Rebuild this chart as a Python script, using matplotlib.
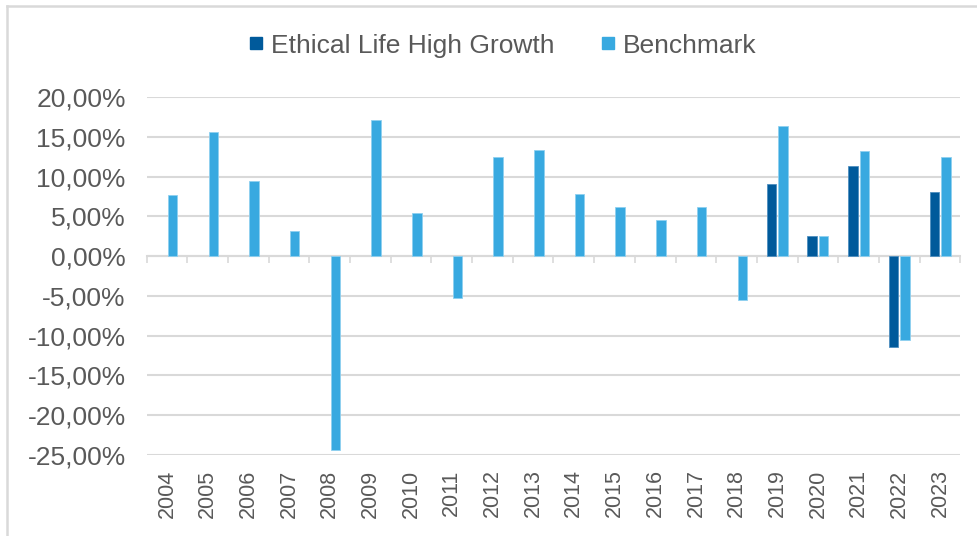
import matplotlib
matplotlib.use("Agg")
import matplotlib.pyplot as plt
from matplotlib.lines import Line2D
import numpy as np
from matplotlib.ticker import FuncFormatter

years = ["2004", "2005", "2006", "2007", "2008", "2009", "2010", "2011", "2012", "2013",
         "2014", "2015", "2016", "2017", "2018", "2019", "2020", "2021", "2022", "2023"]
ethical = [np.nan] * 15 + [9.1, 2.5, 11.3, -11.4, 8.0]
benchmark = [7.7, 15.6, 9.5, 3.15, -24.4, 17.05, 5.4, -5.2, 12.5, 13.35,
             7.85, 6.2, 4.6, 6.2, -5.5, 16.4, 2.5, 13.2, -10.5, 12.4]
series_names = ["Ethical Life High Growth", "Benchmark"]
yticks = [20, 15, 10, 5, 0, -5, -10, -15, -20, -25]

plt.rcParams['font.family'] = ['Liberation Sans', 'DejaVu Sans']
text_color = "#595959"
grid_color = "#D9D9D9"
c_eth = "#005A9B"
c_ben = "#38A9E0"

fig = plt.figure(figsize=(9.77, 5.36), dpi=100)
ax = fig.add_axes([0.150, 0.151, 0.833, 0.668])

x = np.arange(len(years))
w = 0.235
off = 0.14
ax.bar(x - off, ethical, width=w, color=c_eth, edgecolor="#4F8FC0", linewidth=0.6,
       label=series_names[0], zorder=3)
ax.bar(x + off, benchmark, width=w, color=c_ben, edgecolor="#8FD0F0", linewidth=0.6,
       label=series_names[1], zorder=3)

ax.set_xlim(-0.5, len(years) - 0.5)
ax.set_ylim(-25, 20)
ax.set_yticks(yticks)
ax.yaxis.set_major_formatter(FuncFormatter(lambda v, p: f"{v:.2f}%".replace(".", ",")))
ax.tick_params(axis='y', length=0, pad=15, labelsize=19, labelcolor=text_color)
ax.yaxis.grid(True, color=grid_color, linewidth=1.5, zorder=0)
ax.set_axisbelow(True)

for s in ["top", "right", "left"]:
    ax.spines[s].set_visible(False)
ax.spines["bottom"].set_position(("data", 0))
ax.spines["bottom"].set_color(grid_color)
ax.spines["bottom"].set_linewidth(1.5)
ax.set_xticks(np.arange(len(years) + 1) - 0.5)
ax.set_xticklabels([])
ax.tick_params(axis='x', length=5, width=1.2, color=grid_color, direction='out')

for i, yl in enumerate(years):
    ax.text(i, -0.04, yl, transform=ax.get_xaxis_transform(), rotation=90,
            ha='center', va='top', fontsize=15.5, color=text_color)

handles = [Line2D([], [], linestyle='none', marker='s', markersize=8, color=c_eth),
           Line2D([], [], linestyle='none', marker='s', markersize=8, color=c_ben)]
fig.legend(handles, series_names, loc='center', bbox_to_anchor=(0.515, 0.915), ncol=2,
           frameon=False, fontsize=19, handlelength=0.5, handletextpad=0.3,
           columnspacing=1.8, labelcolor=text_color)

# outer chart frame (left and top)
fig.add_artist(Line2D([0.0072, 0.0072], [0, 0.989], transform=fig.transFigure,
                      color=grid_color, linewidth=1.8))
fig.add_artist(Line2D([0.0072, 1.0], [0.989, 0.989], transform=fig.transFigure,
                      color=grid_color, linewidth=1.8))

fig.savefig("out.png", dpi=100)
